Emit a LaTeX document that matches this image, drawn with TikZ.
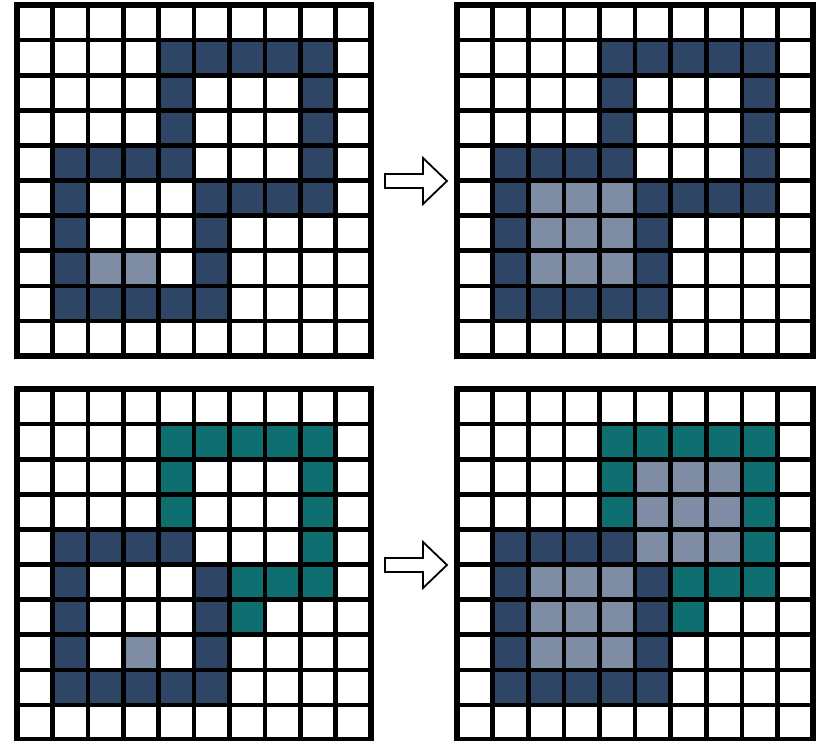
\documentclass[tikz,border=0pt]{standalone}
\usepackage{tikz}
\definecolor{navy}{HTML}{2E4566}
\definecolor{slate}{HTML}{7E8DA4}
\definecolor{teal}{HTML}{0E6E70}
\tikzset{
  gridline/.style={line width=4.6pt, black},
  border/.style={line width=6pt, black},
  arrowshape/.style={draw=black, line width=1.8pt, fill=white, line join=miter}
}
\newcommand{\mygrid}[6]{%
  \begin{scope}[shift={(#1,#2)}, x=#3pt, y=-35.1pt]
    \foreach \c/\r in {#4} \fill[navy] (\c,\r) rectangle ++(1,1);
    \foreach \c/\r in {#5} \fill[slate] (\c,\r) rectangle ++(1,1);
    \foreach \c/\r in {#6} \fill[teal] (\c,\r) rectangle ++(1,1);
    \foreach \k in {1,...,9} {
      \draw[gridline] (\k,0) -- (\k,10);
      \draw[gridline] (0,\k) -- (10,\k);
    }
    \draw[border] (0,0) rectangle (10,10);
  \end{scope}}
\begin{document}
\begin{tikzpicture}[x=1pt, y=-1pt]
\useasboundingbox (0,0) rectangle (820,740);
\fill[white] (0,0) rectangle (820,740);
% top-left
\mygrid{17}{5}{35.4}{4/1,5/1,6/1,7/1,8/1,4/2,8/2,4/3,8/3,1/4,2/4,3/4,4/4,8/4,1/5,5/5,6/5,7/5,8/5,1/6,5/6,1/7,5/7,1/8,2/8,3/8,4/8,5/8}{2/7,3/7}{}
% top-right
\mygrid{457}{5}{35.6}{4/1,5/1,6/1,7/1,8/1,4/2,8/2,4/3,8/3,1/4,2/4,3/4,4/4,8/4,1/5,5/5,6/5,7/5,8/5,1/6,5/6,1/7,5/7,1/8,2/8,3/8,4/8,5/8}{2/5,3/5,4/5,2/6,3/6,4/6,2/7,3/7,4/7}{}
% bottom-left
\mygrid{17}{389}{35.4}{1/4,2/4,3/4,4/4,1/5,5/5,1/6,5/6,1/7,5/7,1/8,2/8,3/8,4/8,5/8}{3/7}{4/1,5/1,6/1,7/1,8/1,4/2,8/2,4/3,8/3,8/4,6/5,7/5,8/5,6/6}
% bottom-right
\mygrid{457}{389}{35.6}{1/4,2/4,3/4,4/4,1/5,5/5,1/6,5/6,1/7,5/7,1/8,2/8,3/8,4/8,5/8}{5/2,6/2,7/2,5/3,6/3,7/3,5/4,6/4,7/4,2/5,3/5,4/5,2/6,3/6,4/6,2/7,3/7,4/7}{4/1,5/1,6/1,7/1,8/1,4/2,8/2,4/3,8/3,8/4,6/5,7/5,8/5,6/6}
% arrows
\draw[arrowshape] (385,174) -- (423,174) -- (423,158) -- (447,181) -- (423,204) -- (423,188) -- (385,188) -- cycle;
\draw[arrowshape] (385,558) -- (423,558) -- (423,542) -- (447,565) -- (423,588) -- (423,572) -- (385,572) -- cycle;
\end{tikzpicture}
\end{document}
